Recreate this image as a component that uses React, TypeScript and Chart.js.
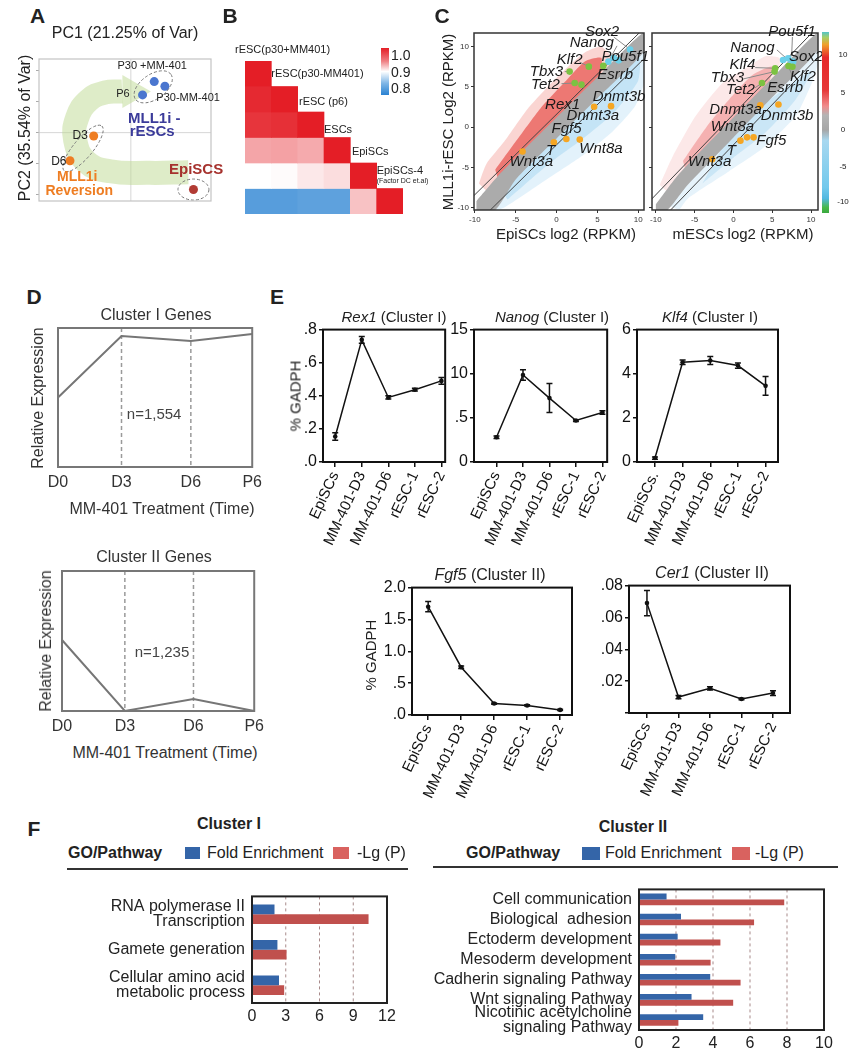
import React, { useEffect, useRef } from 'react';
import { Chart, registerables } from 'chart.js';

Chart.register(...registerables);
const FONT = "'Liberation Sans', Arial, Helvetica, sans-serif";
Chart.defaults.font.family = FONT;
Chart.defaults.color = '#222';

/* ======================= DATA ======================= */
// A – PCA
const pcaSamples = ['P30 +MM-401', 'P30-MM-401', 'P6', 'D3', 'D6', 'EpiSCs'];
const pcaPC1 = [0.68, 0.99, 0.34, -1.08, -1.77, 1.82];
const pcaPC2 = [1.65, 1.5, 1.22, -0.11, -0.91, -1.84];
const pcaYTicks = [-2, -1, 0, 1, 2];
const pcaPathPC1 = [1.67, 0.54, -0.6, -1.3, -1.62, -1.56, -1.22, -0.74, -0.25];
const pcaPathPC2 = [-1.28, -1.3, -1.25, -0.94, -0.23, 0.48, 1.05, 1.3, 1.33];
const pcaArrowTip = [0.03, 1.33];

// B – correlation heatmap (lower triangle)
const corrSamples = ['rESC(p30+MM401)', 'rESC(p30-MM401)', 'rESC (p6)', 'ESCs', 'EpiSCs', 'EpiSCs-4'];
const corrRow0 = [1.0];
const corrRow1 = [0.995, 1.0];
const corrRow2 = [0.99, 0.992, 1.0];
const corrRow3 = [0.94, 0.942, 0.938, 1.0];
const corrRow4 = [0.9, 0.902, 0.91, 0.915, 1.0];
const corrRow5 = [0.822, 0.822, 0.825, 0.825, 0.927, 1.0];
const corrRows = [corrRow0, corrRow1, corrRow2, corrRow3, corrRow4, corrRow5];

// C – scatter comparisons (log2 RPKM)
const cTicks = [-10, -5, 0, 5, 10];
const cLeftGreenX = [3.95, 1.6, 2.22, 3.05, 5.72];
const cLeftGreenY = [7.52, 6.9, 5.48, 5.28, 7.61];
const cLeftCyanX = [6.34, 7.0, 7.6, 9.0];
const cLeftCyanY = [8.14, 8.6, 8.3, 9.65];
const cLeftOrangeX = [4.6, 6.67, 1.2, -0.33, 2.84, -4.16];
const cLeftOrangeY = [2.54, 2.61, -1.47, -1.88, -1.55, -3.03];
const cRightGreenX = [5.38, 5.3, 3.68, 7.1, 7.6];
const cRightGreenY = [7.32, 6.9, 5.48, 7.6, 7.5];
const cRightCyanX = [6.4, 7.05, 7.7, 7.4];
const cRightCyanY = [8.34, 8.55, 8.14, 7.75];
const cRightOrangeX = [3.46, 5.8, 1.75, 2.6, 0.9, -2.74];
const cRightOrangeY = [2.7, 2.82, -1.27, -1.27, -1.68, -4.0];
const cLeftRedOuter = [[-9.5, -7], [-8.6, -4.6], [-6.4, -1.8], [-3.6, 2.2], [-1.1, 5.0], [1.4, 7.5], [3.5, 9.3], [5.5, 10], [7, 8], [0, 0], [-8, -8.5]];
const cLeftRedInner = [[-7.5, -5.3], [-5, -1.8], [-2, 2.3], [1, 5.6], [3.5, 8.2], [5.5, 8.6], [5, 5], [0, 0], [-7, -7]];
const cLeftBlueOuter = [[-8, -10.5], [-6.4, -10], [-1.5, -6.7], [3.1, -3.6], [6.8, -0.6], [9.6, 2.6], [10.7, 5.5], [10.7, 10], [0, 0], [-9, -9]];
const cLeftBlueInner = [[-6, -9], [-1, -4.6], [3, -1.6], [7, 1.8], [10, 5.8], [10, 9], [0, 0], [-7, -7.5]];
const cLeftBand = [[-9.8, -9.2], [-7, -5.9], [-3, -1.8], [0, 1.2], [5, 6.2], [10.7, 11.8], [10.7, 9.4], [5, 3.6], [0, -1.4], [-5, -6.5], [-7.5, -10.3], [-9.8, -10.3]];
const cRightRedOuter = [[-9.5, -7.2], [-7.8, -3.6], [-4.9, 1.35], [-1.4, 5.5], [1.9, 7.5], [4.1, 8.8], [6, 8.5], [5, 5], [0, 0], [-8, -8.5]];
const cRightRedInner = [[-6.5, -4.2], [-3.5, 0], [-0.5, 3.5], [2.5, 6.5], [5, 7.5], [4, 4], [0, 0], [-6, -6]];
const cRightBlueOuter = [[-7, -10.3], [-5.8, -8.8], [-0.6, -5.5], [3.7, -2.7], [8, 1.35], [10.1, 5.5], [10.9, 8], [10.9, 10], [0, 0], [-9, -9.5]];
const cRightBlueInner = [[-4, -7], [0, -3.8], [4, -0.8], [8, 3.4], [10, 7], [0, 0]];
const cRightBand = [[-10, -9.6], [-7, -5.8], [0, 1.2], [5, 6.1], [10.9, 11.8], [10.9, 9.6], [5, 3.7], [0, -1.3], [-6, -7.3], [-8.5, -10.3], [-10, -10.3]];
const cDiagOffsets = [1.6, -2.2];
const cLeftLeaders = [[7.0, 11.2, 9.0, 9.65], [7.4, 10.1, 6.34, 8.14], [2.8, 8.1, 3.95, 7.52], [1.0, 6.9, 1.6, 6.9], [0.6, 5.4, 2.22, 5.48]];
const cRightLeaders = [[7.6, 11.2, 7.5, 8.8], [5.6, 9.6, 7.0, 8.4], [2.8, 7.4, 5.38, 7.32], [1.3, 6.0, 5.3, 6.9], [2.8, 4.9, 3.68, 5.48], [7.6, 6.4, 7.1, 7.5]];

// D – cluster expression profiles
const timeLabels = ['D0', 'D3', 'D6', 'P6'];
const timePos = [0, 3.27, 6.84, 10];
const clusterIExpr = [0.5, 0.942, 0.906, 0.957];
const clusterIIExpr = [0.507, 0, 0.086, 0];

// E – qPCR (% GADPH)
const stageLabels = ['EpiSCs', 'MM-401-D3', 'MM-401-D6', 'rESC-1', 'rESC-2'];
const stageLabelsKlf4 = ['EpiSCs.', 'MM-401-D3', 'MM-401-D6', 'rESC-1', 'rESC-2'];
const rex1Vals = [0.154, 0.738, 0.39, 0.437, 0.49];
const rex1Err = [0.022, 0.02, 0.01, 0.008, 0.02];
const nanogVals = [2.8, 9.85, 7.24, 4.7, 5.6];
const nanogErr = [0.15, 0.6, 1.64, 0.1, 0.2];
const klf4Vals = [0.18, 4.52, 4.6, 4.37, 3.45];
const klf4Err = [0.05, 0.1, 0.18, 0.12, 0.43];
const fgf5Vals = [1.7, 0.75, 0.18, 0.15, 0.08];
const fgf5Err = [0.08, 0.02, 0.01, 0.01, 0.01];
const cer1Vals = [0.069, 0.01, 0.0155, 0.0088, 0.0125];
const cer1Err = [0.008, 0.001, 0.001, 0.0005, 0.0015];
const rex1Ticks = [0, 0.2, 0.4, 0.6, 0.8];
const rex1TickLabels = ['.0', '.2', '.4', '.6', '.8'];
const nanogTicks = [0, 5, 10, 15];
const nanogTickLabels = ['0', '.5', '10', '15'];
const klf4Ticks = [0, 2, 4, 6];
const klf4TickLabels = ['0', '2', '4', '6'];
const fgf5Ticks = [0, 0.5, 1, 1.5, 2];
const fgf5TickLabels = ['.0', '.5', '1.0', '1.5', '2.0'];
const cer1Ticks = [0, 0.02, 0.04, 0.06, 0.08];
const cer1TickLabels = ['', '.02', '.04', '.06', '.08'];

// F – GO enrichment
const clusterITerms = [['RNA polymerase II', 'Transcription'], 'Gamete generation', ['Cellular amino acid', 'metabolic process']];
const clusterIFold = [2.0, 2.26, 2.4];
const clusterILgP = [10.36, 3.07, 2.86];
const clusterITicks = [0, 3, 6, 9, 12];
const clusterIITerms = ['Cell communication', 'Biological  adhesion', 'Ectoderm development', 'Mesoderm development', 'Cadherin signaling Pathway', 'Wnt signaling Pathway', ['Nicotinic acetylcholine', 'signaling Pathway']];
const clusterIIFold = [1.49, 2.27, 2.09, 1.96, 3.85, 2.84, 3.47];
const clusterIILgP = [7.85, 6.22, 4.4, 3.87, 5.49, 5.09, 2.13];
const clusterIITicks = [0, 2, 4, 6, 8, 10];

/* ======================= STYLE ======================= */
const pcaColors = ['#4a76cf', '#4a76cf', '#4a76cf', '#ee7d22', '#ee7d22', '#b23b34'];
const ARROW = 'rgba(190,218,145,0.5)';
const BLUE = '#3465a8';
const RED = '#c0504d';

/* ======================= HELPERS ======================= */
const pts = (xs: number[], ys: number[]) => xs.map((x, i) => ({ x, y: ys[i] }));
const pairs = (a: number[][]) => a.map(([x, y]) => ({ x, y }));
const tickSetter = (vals: number[]) => (s: any) => { s.ticks = vals.map((v) => ({ value: v })); };

function corrColor(v: number) {
  const mix = (a: number[], t: number) => `rgb(${Math.round(255 + (a[0] - 255) * t)},${Math.round(255 + (a[1] - 255) * t)},${Math.round(255 + (a[2] - 255) * t)})`;
  if (v >= 0.9) return mix([228, 30, 38], Math.min(1, (v - 0.9) / 0.1));
  return mix([40, 130, 210], Math.min(1, (0.9 - v) / 0.1));
}

type TextItem = { x: number; y: number; text: string; size: number; bold?: boolean; italic?: boolean; color?: string; align?: CanvasTextAlign };
type Annot = {
  frame?: { color: string; width: number };
  vlines?: { x: number; color: string; width?: number; dash?: number[] }[];
  hlines?: { y: number; color: string; width?: number; dash?: number[] }[];
  ellipses?: { x: number; y: number; rx: number; ry: number; angle: number; color: string }[];
  texts?: TextItem[];
  errorBars?: boolean;
};

function makeAnnot(a: Annot) {
  return {
    id: 'annot',
    beforeDatasetsDraw(chart: any) {
      const { ctx, chartArea: ca, scales } = chart;
      ctx.save();
      for (const l of a.vlines || []) {
        const px = scales.x.getPixelForValue(l.x);
        ctx.beginPath();
        ctx.setLineDash(l.dash || []);
        ctx.strokeStyle = l.color;
        ctx.lineWidth = l.width || 1;
        ctx.moveTo(px, ca.top);
        ctx.lineTo(px, ca.bottom);
        ctx.stroke();
      }
      for (const l of a.hlines || []) {
        const py = scales.y.getPixelForValue(l.y);
        ctx.beginPath();
        ctx.setLineDash(l.dash || []);
        ctx.strokeStyle = l.color;
        ctx.lineWidth = l.width || 1;
        ctx.moveTo(ca.left, py);
        ctx.lineTo(ca.right, py);
        ctx.stroke();
      }
      ctx.restore();
    },
    afterDatasetsDraw(chart: any) {
      const { ctx, chartArea: ca, scales } = chart;
      const xs = scales.x;
      const ys = scales.y;
      ctx.save();
      ctx.setLineDash([]);
      if (a.errorBars) {
        chart.data.datasets.forEach((ds: any) => {
          if (!ds.errorBars) return;
          ds.data.forEach((p: any, j: number) => {
            const e = ds.errorBars[j];
            const px = xs.getPixelForValue(p.x);
            const y1 = ys.getPixelForValue(p.y - e);
            const y2 = ys.getPixelForValue(p.y + e);
            ctx.strokeStyle = '#111';
            ctx.lineWidth = 1.5;
            ctx.beginPath();
            ctx.moveTo(px, y1); ctx.lineTo(px, y2);
            ctx.moveTo(px - 3, y1); ctx.lineTo(px + 3, y1);
            ctx.moveTo(px - 3, y2); ctx.lineTo(px + 3, y2);
            ctx.stroke();
          });
        });
      }
      for (const e of a.ellipses || []) {
        const cx = xs.getPixelForValue(e.x);
        const cy = ys.getPixelForValue(e.y);
        const rx = Math.abs(xs.getPixelForValue(e.x + e.rx) - cx);
        const ry = Math.abs(ys.getPixelForValue(e.y + e.ry) - cy);
        ctx.beginPath();
        ctx.setLineDash([3, 2]);
        ctx.strokeStyle = e.color;
        ctx.lineWidth = 1;
        ctx.ellipse(cx, cy, rx, ry, (e.angle * Math.PI) / 180, 0, Math.PI * 2);
        ctx.stroke();
      }
      ctx.setLineDash([]);
      if (a.frame) {
        ctx.strokeStyle = a.frame.color;
        ctx.lineWidth = a.frame.width;
        ctx.strokeRect(ca.left, ca.top, ca.width, ca.height);
      }
      for (const t of a.texts || []) {
        ctx.font = `${t.italic ? 'italic ' : ''}${t.bold ? 'bold ' : ''}${t.size}px ${FONT}`;
        ctx.fillStyle = t.color || '#222';
        ctx.textAlign = t.align || 'center';
        ctx.textBaseline = 'middle';
        ctx.fillText(t.text, xs.getPixelForValue(t.x), ys.getPixelForValue(t.y));
      }
      ctx.restore();
    },
  };
}

const baseOptions = (padding: any) => ({
  animation: false,
  responsive: false,
  maintainAspectRatio: false,
  events: [],
  layout: { padding },
  plugins: { legend: { display: false }, tooltip: { enabled: false }, title: { display: false } },
});

/* ======================= A ======================= */
function buildA() {
  const lbl = (x: number, y: number, text: string, size: number, color: string, bold = false, align: CanvasTextAlign = 'center') => ({ x, y, text, size, color, bold, align });
  return {
    type: 'scatter',
    data: {
      datasets: [
        { type: 'scatter', label: 'samples', data: pts(pcaPC1, pcaPC2), pointRadius: 4.5, pointBackgroundColor: pcaColors, pointBorderWidth: 0, order: 0 },
        { type: 'scatter', label: 'arrowhead', data: [{ x: pcaArrowTip[0], y: pcaArrowTip[1] }], pointStyle: 'triangle', pointRotation: 90, pointRadius: 19, pointBackgroundColor: ARROW, pointBorderWidth: 0, order: 1 },
        { type: 'line', label: 'path', data: pts(pcaPathPC1, pcaPathPC2), borderColor: ARROW, borderWidth: 24, tension: 0.45, pointRadius: 0, fill: false, borderCapStyle: 'butt', order: 2 },
      ],
    },
    options: {
      ...baseOptions({ top: 8, right: 17, bottom: 10, left: 0 }),
      scales: {
        x: { type: 'linear', display: false, min: -2.67, max: 2.33 },
        y: {
          type: 'linear', min: -2.21, max: 2.38, afterBuildTicks: tickSetter(pcaYTicks),
          ticks: { display: false }, grid: { drawOnChartArea: false, tickLength: 3, color: '#aaa' },
          border: { display: false }, afterFit: (s: any) => { s.width = 17; },
        },
      },
    },
    plugins: [makeAnnot({
      frame: { color: '#c4c4c4', width: 1.2 },
      vlines: [{ x: 0, color: '#d6d6d6' }],
      hlines: [{ y: 0, color: '#d6d6d6' }],
      ellipses: [
        { x: 0.65, y: 1.48, rx: 0.63, ry: 0.4, angle: -35, color: '#777' },
        { x: -1.39, y: -0.51, rx: 0.85, ry: 0.31, angle: -50, color: '#777' },
        { x: 1.82, y: -1.84, rx: 0.45, ry: 0.34, angle: 0, color: '#777' },
      ],
      texts: [
        lbl(0.62, 2.16, pcaSamples[0], 11, '#222'),
        lbl(0.74, 1.13, pcaSamples[1], 11, '#222', false, 'left'),
        lbl(-0.23, 1.25, pcaSamples[2], 11, '#222'),
        lbl(-1.25, -0.11, pcaSamples[3], 12, '#222', false, 'right'),
        lbl(-1.87, -0.94, pcaSamples[4], 12, '#222', false, 'right'),
        lbl(0.68, 0.43, 'MLL1i -', 15, '#3b3b9a', true),
        lbl(0.62, 0.03, 'rESCs', 15, '#3b3b9a', true),
        lbl(-1.56, -1.45, 'MLL1i', 14, '#ee7d22', true),
        lbl(-1.5, -1.9, 'Reversion', 14, '#ee7d22', true),
        lbl(1.11, -1.19, 'EpiSCS', 15, '#a6322e', true, 'left'),
      ],
    })],
  };
}

/* ======================= B ======================= */
function buildB() {
  const lab = (x: number, y: number, text: string, size = 11) => ({ x, y, text, size, color: '#222', align: 'left' as CanvasTextAlign });
  return {
    type: 'bar',
    data: {
      labels: corrSamples,
      datasets: corrRows.map((row, r) => ({
        label: corrSamples[r],
        data: corrSamples.map((_, j) => (j <= r ? [r, r + 1] : null)),
        backgroundColor: corrSamples.map((_, j) => (j <= r ? corrColor(row[j]) : 'rgba(0,0,0,0)')),
        borderWidth: 0, grouped: false, barPercentage: 1, categoryPercentage: 1,
      })),
    },
    options: {
      ...baseOptions({ left: 17, top: 23, right: 30, bottom: 6 }),
      scales: {
        x: { display: false },
        y: { display: false, min: 0, max: 6, reverse: true },
      },
    },
    plugins: [makeAnnot({
      texts: [
        lab(-0.88, -0.43, corrSamples[0]),
        lab(0.5, 0.5, corrSamples[1]),
        lab(1.55, 1.6, corrSamples[2]),
        lab(2.5, 2.69, corrSamples[3]),
        lab(3.56, 3.57, corrSamples[4]),
        lab(4.5, 4.3, corrSamples[5]),
        lab(4.5, 4.72, '(Factor DC et.al)', 7),
      ],
    })],
  };
}

/* ======================= C ======================= */
function cloud(poly: number[][], color: string, order: number) {
  return { type: 'line', data: pairs(poly), fill: 'shape', backgroundColor: color, borderWidth: 0, pointRadius: 0, tension: 0.2, order };
}
function genePts(xs: number[], ys: number[], color: string) {
  return { type: 'scatter', data: pts(xs, ys), pointRadius: 3.3, pointBackgroundColor: color, pointBorderWidth: 0, order: 0 };
}
function leaders(segs: number[][]) {
  return segs.map((s) => ({ type: 'line', data: [{ x: s[0], y: s[1] }, { x: s[2], y: s[3] }], borderColor: '#8a8a8a', borderWidth: 1, pointRadius: 0, order: 1 }));
}
function diagLines() {
  return cDiagOffsets.map((o) => ({ type: 'line', data: [{ x: -12, y: -12 + o }, { x: 12, y: 12 + o }], borderColor: '#444', borderWidth: 1, pointRadius: 0, order: 1 }));
}
function cScales(xMin: number, xMax: number, showY: boolean) {
  return {
    x: {
      type: 'linear', min: xMin, max: xMax, afterBuildTicks: tickSetter(cTicks),
      ticks: { font: { size: 8 }, color: '#333', padding: 2, maxRotation: 0 },
      grid: { drawOnChartArea: false, tickLength: 3, color: '#333' }, border: { display: false },
      afterFit: (s: any) => { s.height = 17; },
    },
    y: {
      type: 'linear', min: -10.3, max: 11.7, afterBuildTicks: tickSetter(cTicks),
      ticks: { display: showY, font: { size: 8 }, color: '#333', padding: 2 },
      grid: { drawOnChartArea: false, tickLength: 3, color: '#333' }, border: { display: false },
      afterFit: (s: any) => { s.width = showY ? 22 : 7; },
    },
  };
}
const geneText = (l: any[]) => l.map(([text, x, y]) => ({ x, y, text, size: 15, italic: true, color: '#1a1a1a' }));
const cLeftLabels = [['Sox2', 5.56, 11.84], ['Nanog', 4.32, 10.43], ['Klf2', 1.6, 8.34], ['Pou5f1', 8.4, 8.7], ['Tbx3', -1.23, 6.87], ['Esrrb', 7.16, 6.5], ['Tet2', -1.36, 5.28], ['Dnmt3b', 7.65, 3.8], ['Rex1', 0.74, 2.82], ['Dnmt3a', 4.44, 1.35], ['Fgf5', 1.23, -0.25], ['T', -0.74, -2.94], ['Wnt8a', 5.43, -2.7], ['Wnt3a', -3.09, -4.29]];
const cRightLabels = [['Pou5f1', 7.56, 11.84], ['Nanog', 2.44, 9.8], ['Sox2', 9.36, 8.7], ['Klf4', 1.15, 7.73], ['Klf2', 8.97, 6.26], ['Tbx3', -0.77, 6.13], ['Esrrb', 6.67, 4.9], ['Tet2', 0.9, 4.66], ['Dnmt3a', 0.26, 2.2], ['Dnmt3b', 6.92, 1.35], ['Wnt8a', -0.13, 0], ['Fgf5', 4.87, -1.72], ['T', -0.26, -2.94], ['Wnt3a', -3.08, -4.29]];

function buildCLeft() {
  return {
    type: 'scatter',
    data: {
      datasets: [
        genePts(cLeftGreenX, cLeftGreenY, '#7cc242'),
        genePts(cLeftCyanX, cLeftCyanY, '#6cd0ea'),
        genePts(cLeftOrangeX, cLeftOrangeY, '#f5a623'),
        ...leaders(cLeftLeaders),
        ...diagLines(),
        cloud(cLeftBand, '#ababab', 2),
        cloud(cLeftRedInner, 'rgba(228,52,46,0.58)', 3),
        cloud(cLeftBlueInner, 'rgba(172,216,242,0.55)', 3),
        cloud(cLeftRedOuter, 'rgba(236,92,82,0.26)', 4),
        cloud(cLeftBlueOuter, 'rgba(200,230,248,0.5)', 4),
      ],
    },
    options: { ...baseOptions({ top: 18, right: 6, left: 0, bottom: 0 }), scales: cScales(-10.1, 10.7, true) },
    plugins: [makeAnnot({ frame: { color: '#333', width: 1.5 }, texts: geneText(cLeftLabels) })],
  };
}
function buildCRight() {
  return {
    type: 'scatter',
    data: {
      datasets: [
        genePts(cRightGreenX, cRightGreenY, '#7cc242'),
        genePts(cRightCyanX, cRightCyanY, '#6cd0ea'),
        genePts(cRightOrangeX, cRightOrangeY, '#f5a623'),
        ...leaders(cRightLeaders),
        ...diagLines(),
        cloud(cRightBand, '#ababab', 2),
        cloud(cRightRedInner, 'rgba(235,95,95,0.4)', 3),
        cloud(cRightBlueInner, 'rgba(175,218,242,0.5)', 3),
        cloud(cRightRedOuter, 'rgba(240,140,140,0.2)', 4),
        cloud(cRightBlueOuter, 'rgba(205,232,248,0.5)', 4),
      ],
    },
    options: { ...baseOptions({ top: 18, right: 7, left: 0, bottom: 0 }), scales: cScales(-10.5, 10.9, false) },
    plugins: [makeAnnot({ frame: { color: '#333', width: 1.5 }, texts: geneText(cRightLabels) })],
  };
}

/* ======================= D ======================= */
function buildD(vals: number[], pad: any, xH: number, nText: string, nx: number, ny: number) {
  return {
    type: 'line',
    data: { datasets: [{ data: pts(timePos, vals), borderColor: '#767676', borderWidth: 2, pointRadius: 0, tension: 0, clip: false }] },
    options: {
      ...baseOptions(pad),
      scales: {
        x: {
          type: 'linear', min: 0, max: 10, afterBuildTicks: tickSetter(timePos),
          ticks: { font: { size: 16 }, color: '#333', padding: 6, maxRotation: 0, callback: (_v: any, i: number) => timeLabels[i] },
          grid: { display: false, drawTicks: false }, border: { display: false },
          afterFit: (s: any) => { s.height = xH; },
        },
        y: { display: false, min: 0, max: 1 },
      },
    },
    plugins: [makeAnnot({
      frame: { color: '#777', width: 2 },
      vlines: [{ x: timePos[1], color: '#9a9a9a', dash: [4, 3], width: 1.5 }, { x: timePos[2], color: '#9a9a9a', dash: [4, 3], width: 1.5 }],
      texts: [{ x: nx, y: ny, text: nText, size: 15, color: '#444' }],
    })],
  };
}

/* ======================= E ======================= */
function buildE(vals: number[], errs: number[], labels: string[], xMin: number, xMax: number, yMax: number, yTicks: number[], yLabels: string[], yW: number, pad: any) {
  return {
    type: 'line',
    data: {
      datasets: [{
        data: vals.map((v, i) => ({ x: i, y: v })), errorBars: errs,
        borderColor: '#111', borderWidth: 1.5, pointRadius: 2.3, pointBackgroundColor: '#111', pointBorderWidth: 0, tension: 0, clip: false,
      }],
    },
    options: {
      ...baseOptions(pad),
      scales: {
        x: {
          type: 'linear', min: xMin, max: xMax, afterBuildTicks: tickSetter(labels.map((_, i) => i)),
          ticks: { autoSkip: false, minRotation: 65, maxRotation: 65, font: { size: 15 }, color: '#111', padding: 2, callback: (_v: any, i: number) => labels[i] },
          grid: { drawOnChartArea: false, tickLength: 5, color: '#111', lineWidth: 1.5 }, border: { display: false },
          afterFit: (s: any) => { s.height = 88; },
        },
        y: {
          type: 'linear', min: 0, max: yMax, afterBuildTicks: tickSetter(yTicks),
          ticks: { font: { size: 16 }, color: '#111', padding: 2, callback: (_v: any, i: number) => yLabels[i] },
          grid: { drawOnChartArea: false, tickLength: 4, color: '#111', lineWidth: 1.5 }, border: { display: false },
          afterFit: (s: any) => { s.width = yW; },
        },
      },
    },
    plugins: [makeAnnot({ frame: { color: '#111', width: 2 }, errorBars: true })],
  };
}

/* ======================= F ======================= */
function buildF(terms: any[], fold: number[], lgp: number[], ticks: number[], xMax: number, yW: number, xH: number, catPct: number, pad: any) {
  return {
    type: 'bar',
    data: {
      labels: terms,
      datasets: [
        { label: 'Fold Enrichment', data: fold, backgroundColor: BLUE, barPercentage: 1, categoryPercentage: catPct, borderWidth: 0 },
        { label: '-Lg (P)', data: lgp, backgroundColor: RED, barPercentage: 1, categoryPercentage: catPct, borderWidth: 0 },
      ],
    },
    options: {
      ...baseOptions(pad),
      indexAxis: 'y',
      scales: {
        x: {
          min: 0, max: xMax, afterBuildTicks: tickSetter(ticks),
          ticks: { font: { size: 16 }, color: '#222', padding: 4, maxRotation: 0, autoSkip: false },
          grid: { display: false, drawTicks: false }, border: { display: false },
          afterFit: (s: any) => { s.height = xH; },
        },
        y: {
          ticks: { font: { size: 16, lineHeight: 0.9 }, color: '#222', padding: 7, autoSkip: false },
          grid: { display: false, drawTicks: false }, border: { display: false },
          afterFit: (s: any) => { s.width = yW; },
        },
      },
    },
    plugins: [makeAnnot({
      frame: { color: '#222', width: 2 },
      vlines: ticks.slice(1, -1).map((x) => ({ x, color: '#a88a8a', dash: [3, 3], width: 1 })),
    })],
  };
}

/* ======================= COMPONENTS ======================= */
function ChartBox({ left, top, width, height, build }: any) {
  const ref = useRef<HTMLCanvasElement | null>(null);
  useEffect(() => {
    const chart = new Chart(ref.current as HTMLCanvasElement, build());
    return () => chart.destroy();
  }, []);
  return <canvas ref={ref} width={width} height={height} style={{ position: 'absolute', left, top, width, height }} />;
}

function T({ x, y, s = 16, b = false, i = false, c = '#222', a = 'c', r = 0, children }: any) {
  const tx = a === 'l' ? '0' : a === 'r' ? '-100%' : '-50%';
  return (
    <div style={{
      position: 'absolute', left: x, top: y, transform: `translate(${tx}, -50%) rotate(${r}deg)`,
      fontSize: s, fontWeight: b ? 700 : 400, fontStyle: i ? 'italic' : 'normal', color: c,
      whiteSpace: 'nowrap', lineHeight: 1, fontFamily: FONT,
    }}>{children}</div>
  );
}

function Box({ x, y, w, h, bg }: any) {
  return <div style={{ position: 'absolute', left: x, top: y, width: w, height: h, background: bg }} />;
}

export default function App() {
  return (
    <div style={{ position: 'absolute', left: 0, top: 0, width: 851, height: 1050, background: '#fff', overflow: 'hidden', fontFamily: FONT }}>
      <ChartBox left={20} top={40} width={210} height={180} build={buildA} />
      <ChartBox left={228} top={38} width={205} height={182} build={buildB} />
      <ChartBox left={452} top={15} width={198} height={212} build={buildCLeft} />
      <ChartBox left={645} top={15} width={180} height={212} build={buildCRight} />
      <ChartBox left={28} top={318} width={240} height={185} build={() => buildD(clusterIExpr, { left: 30, top: 10, right: 12, bottom: 0 }, 36, 'n=1,554', 4.95, 0.374)} />
      <ChartBox left={30} top={562} width={240} height={178} build={() => buildD(clusterIIExpr, { left: 32, top: 9, right: 12, bottom: 0 }, 29, 'n=1,235', 5.2, 0.414)} />
      <ChartBox left={290} top={318} width={170} height={232} build={() => buildE(rex1Vals, rex1Err, stageLabels, -0.46, 4.14, 0.8, rex1Ticks, rex1TickLabels, 33, { top: 11, right: 8, left: 0, bottom: 0 })} />
      <ChartBox left={444} top={318} width={177} height={232} build={() => buildE(nanogVals, nanogErr, stageLabels, -0.85, 4.18, 15, nanogTicks, nanogTickLabels, 30, { top: 11, right: 8, left: 0, bottom: 0 })} />
      <ChartBox left={612} top={318} width={174} height={232} build={() => buildE(klf4Vals, klf4Err, stageLabelsKlf4, -0.65, 4.45, 6, klf4Ticks, klf4TickLabels, 25, { top: 11, right: 8, left: 0, bottom: 0 })} />
      <ChartBox left={370} top={576} width={210} height={227} build={() => buildE(fgf5Vals, fgf5Err, stageLabels, -0.49, 4.36, 2, fgf5Ticks, fgf5TickLabels, 42, { top: 11, right: 8, left: 0, bottom: 0 })} />
      <ChartBox left={590} top={574} width={208} height={227} build={() => buildE(cer1Vals, cer1Err, stageLabels, -0.57, 4.54, 0.08, cer1Ticks, cer1TickLabels, 39, { top: 11, right: 8, left: 0, bottom: 0 })} />
      <ChartBox left={50} top={875} width={350} height={160} build={() => buildF(clusterITerms, clusterIFold, clusterILgP, clusterITicks, 12, 202, 32, 0.55, { top: 7, right: 13, left: 0, bottom: 0 })} />
      <ChartBox left={425} top={868} width={415} height={190} build={() => buildF(clusterIITerms, clusterIIFold, clusterIILgP, clusterIITicks, 10, 214, 28, 0.58, { top: 7, right: 16, left: 0, bottom: 0 })} />

      {/* panel letters */}
      <T x={37.5} y={15} s={21} b>A</T>
      <T x={230} y={15} s={21} b>B</T>
      <T x={442} y={15} s={21} b>C</T>
      <T x={34} y={296} s={21} b>D</T>
      <T x={277} y={296} s={21} b>E</T>
      <T x={34} y={828} s={21} b>F</T>

      {/* A */}
      <T x={125} y={33} s={16}>PC1 (21.25% of Var)</T>
      <T x={25} y={128} s={16} r={-90}>PC2 (35.54% of Var)</T>

      {/* B colour bar */}
      <Box x={381} y={48} w={8} h={47} bg="linear-gradient(to bottom, #e41e26 0%, #ef7f83 28%, #ffffff 50%, #7fb6e6 75%, #2a82d2 100%)" />
      <T x={391} y={55} s={14} a="l">1.0</T>
      <T x={391} y={72} s={14} a="l">0.9</T>
      <T x={391} y={88} s={14} a="l">0.8</T>

      {/* C */}
      <T x={447} y={122} s={15} r={-90}>MLL1i-rESC Log2 (RPKM)</T>
      <T x={566} y={233} s={15}>EpiSCs log2 (RPKM)</T>
      <T x={743} y={233} s={15}>mESCs log2 (RPKM)</T>
      <Box x={822} y={32} w={7} h={181} bg="linear-gradient(to bottom, #55c4c8 0%, #a6cf68 3%, #f0a02a 7%, #e62a2a 14%, #e63838 32%, #f08c8c 41%, #b4b4b4 46%, #a6a6a6 54%, #a8d8f0 60%, #72c9ec 86%, #52b8e0 92%, #48b848 97%, #3aa840 100%)" />
      <T x={843} y={55} s={8}>10</T>
      <T x={843} y={93} s={8}>5</T>
      <T x={843} y={130} s={8}>0</T>
      <T x={843} y={167} s={8}>-5</T>
      <T x={843} y={202} s={8}>-10</T>

      {/* D */}
      <T x={156} y={315} s={16} c="#333">Cluster I Genes</T>
      <T x={38} y={398} s={16} c="#333" r={-90}>Relative Expression</T>
      <T x={162} y={509} s={16} c="#333">MM-401 Treatment (Time)</T>
      <T x={154} y={557} s={16} c="#333">Cluster II Genes</T>
      <T x={46} y={641} s={16} c="#333" r={-90}>Relative Expression</T>
      <T x={165} y={753} s={16} c="#333">MM-401 Treatment (Time)</T>

      {/* E */}
      <T x={394} y={316} s={15}><i>Rex1</i> (Cluster I)</T>
      <T x={552} y={316} s={15}><i>Nanog</i> (Cluster I)</T>
      <T x={710} y={316} s={15}><i>Klf4</i> (Cluster I)</T>
      <T x={295} y={396} s={15} r={-90}>% GADPH</T>
      <T x={490} y={575} s={16}><i>Fgf5</i> (Cluster II)</T>
      <T x={712} y={573} s={16}><i>Cer1</i> (Cluster II)</T>
      <T x={370} y={655} s={15} r={-90}>% GADPH</T>

      {/* F left header */}
      <T x={229} y={824} s={16} b>Cluster I</T>
      <T x={68} y={853} s={16} b a="l">GO/Pathway</T>
      <Box x={185} y={847} w={15} h={12} bg={BLUE} />
      <T x={207} y={853} s={16} a="l">Fold Enrichment</T>
      <Box x={333} y={847} w={16} h={12} bg="#d9625f" />
      <T x={357} y={853} s={16} a="l">-Lg (P)</T>
      <Box x={67} y={868} w={341} h={2} bg="#333" />

      {/* F right header */}
      <T x={633} y={827} s={16} b>Cluster II</T>
      <T x={466} y={853} s={16} b a="l">GO/Pathway</T>
      <Box x={582} y={847} w={18} h={13} bg={BLUE} />
      <T x={605} y={853} s={16} a="l">Fold Enrichment</T>
      <Box x={732} y={847} w={18} h={13} bg="#d9625f" />
      <T x={755} y={853} s={16} a="l">-Lg (P)</T>
      <Box x={433} y={866} w={405} h={2} bg="#333" />
    </div>
  );
}
